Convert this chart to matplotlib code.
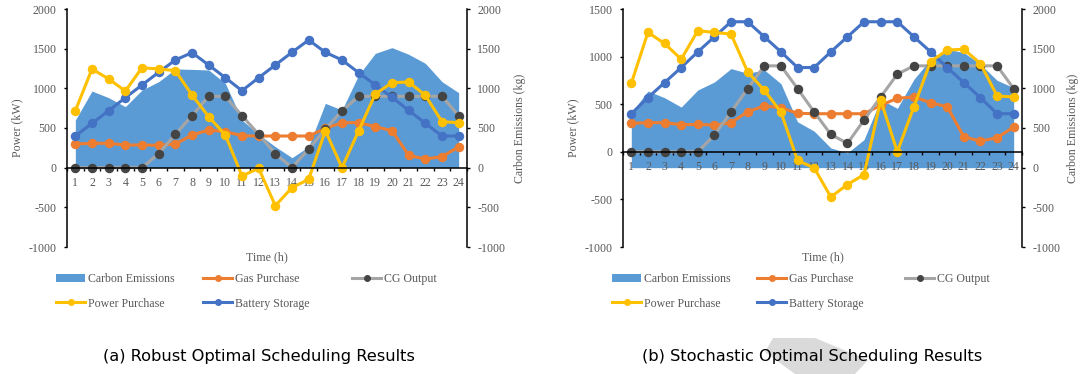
import matplotlib
matplotlib.use('Agg')
import matplotlib.pyplot as plt
from matplotlib.patches import Patch, Polygon
from matplotlib.lines import Line2D

plt.rcParams['axes.unicode_minus'] = False

W, H = 1083, 374

hours = list(range(1, 25))

# ---- (a) Robust optimal scheduling ----
a_carbon = [600, 966, 882, 769, 979, 1084, 1244, 1239, 1231, 1063, 600, 420,
            265, 126, 265, 811, 727, 1168, 1441, 1513, 1429, 1315, 1084, 945]
a_gas = [298, 307, 307, 286, 286, 282, 298, 412, 475, 454, 403, 399,
         399, 399, 399, 496, 567, 567, 517, 466, 155, 109, 139, 261]
a_cg = [0, 0, 0, 0, 0, 176, 420, 655, 899, 899, 655, 420,
        176, 0, 235, 483, 718, 899, 899, 899, 899, 899, 899, 655]
a_power = [718, 1244, 1118, 966, 1260, 1244, 1223, 916, 643, 412, -105, -8,
           -479, -252, -147, 466, 0, 466, 929, 1071, 1080, 912, 580, 567]
a_battery = [399, 559, 718, 882, 1042, 1202, 1357, 1450, 1294, 1134, 970, 1134,
             1294, 1454, 1609, 1454, 1357, 1197, 1042, 887, 723, 559, 399, 399]

# ---- (b) Stochastic optimal scheduling ----
b_carbon = [692, 966, 882, 764, 979, 1080, 1249, 1190, 1232, 1059, 578, 460,
            249, 186, 354, 861, 747, 1114, 1367, 1494, 1451, 1304, 1101, 1008]
b_gas = [299, 306, 306, 285, 288, 281, 306, 421, 481, 464, 404, 400,
         400, 400, 400, 488, 562, 576, 516, 474, 158, 112, 148, 260]
b_cg = [0, 0, 0, 0, 0, 176, 418, 664, 903, 903, 664, 418,
        183, 88, 334, 576, 815, 903, 903, 903, 903, 903, 903, 664]
b_power = [720, 1254, 1138, 973, 1272, 1254, 1236, 839, 646, 418, -91, -169,
           -474, -344, -239, 544, 0, 474, 948, 1068, 1078, 927, 587, 576]
b_battery = [400, 569, 727, 885, 1050, 1208, 1366, 1366, 1208, 1050, 885, 885,
             1050, 1208, 1366, 1366, 1366, 1208, 1050, 885, 727, 569, 400, 400]

left_ticks_a = [-1000, -500, 0, 500, 1000, 1500, 2000]
left_ticks_b = [-1000, -500, 0, 500, 1000, 1500]
right_ticks = [-1000, -500, 0, 500, 1000, 1500, 2000]

series_names = ['Carbon Emissions', 'Gas Purchase', 'CG Output',
                'Power Purchase', 'Battery Storage']
caption_a = '(a) Robust Optimal Scheduling Results'
caption_b = '(b) Stochastic Optimal Scheduling Results'

C_AREA = '#5B9BD5'
C_GAS = '#ED7D31'
C_CG = '#A5A5A5'
C_CGM = '#444444'
C_POW = '#FFC000'
C_BAT = '#4472C4'
TXT = '#595959'
SERIF = 'Liberation Serif'
FS = 8.6

fig = plt.figure(figsize=(W / 100, H / 100), dpi=100)


def px(x, y):
    return x / W, 1 - y / H


def panel(x0, x1, ylim, yticks, carbon, gas, cg, power, battery,
          ylab_x, rlab_x, cap, cap_x, leg_x):
    y_top, y_bot = 9, 247
    l, b = x0 / W, 1 - y_bot / H
    w, h = (x1 - x0) / W, (y_bot - y_top) / H
    ax = fig.add_axes([l, b, w, h])
    ax2 = ax.twinx()
    ax.set_zorder(ax2.get_zorder() + 1)
    ax.patch.set_visible(False)

    ax2.fill_between(hours, 0, carbon, color=C_AREA, lw=0)
    ax2.set_ylim(-1000, 2000)
    ax2.set_yticks(right_ticks)

    lw, ms = 2.2, 5.8
    ax.plot(hours, gas, color=C_GAS, lw=lw, marker='o', ms=ms, zorder=3)
    ax.plot(hours, cg, color=C_CG, lw=lw, marker='o', ms=ms,
            mfc=C_CGM, mec=C_CGM, zorder=3)
    ax.plot(hours, battery, color=C_BAT, lw=lw, marker='o', ms=ms, zorder=3)
    ax.plot(hours, power, color=C_POW, lw=lw, marker='o', ms=ms, zorder=3)

    ax.set_xlim(0.5, 24.5)
    ax.set_ylim(*ylim)
    ax.set_yticks(yticks)
    ax.set_xticks(hours)
    ax.set_xticks([i + 0.5 for i in range(0, 25)], minor=True)

    for s in ['top', 'right']:
        ax.spines[s].set_visible(False)
    ax.spines['bottom'].set_position(('data', 0))
    for s in ['top', 'left', 'bottom']:
        ax2.spines[s].set_visible(False)
    for sp in [ax.spines['left'], ax.spines['bottom'], ax2.spines['right']]:
        sp.set_color('black')
        sp.set_linewidth(1.1)
        sp.set_zorder(4)

    ax.tick_params(axis='y', direction='out', length=2.5, width=1, pad=5,
                   labelsize=FS, labelcolor=TXT)
    ax2.tick_params(axis='y', direction='out', length=2.5, width=1, pad=5,
                    labelsize=FS, labelcolor=TXT)
    ax.tick_params(axis='x', which='major', length=0, pad=6.5,
                   labelsize=FS, labelcolor=TXT)
    ax.tick_params(axis='x', which='minor', direction='out', length=2.5, width=1)
    for t in ax.get_xticklabels() + ax.get_yticklabels() + ax2.get_yticklabels():
        t.set_family(SERIF)

    cy = (y_top + y_bot) / 2
    fig.text(*px(ylab_x, cy), 'Power (kW)', rotation=90, ha='center', va='center',
             fontsize=FS, color=TXT, family=SERIF)
    fig.text(*px(rlab_x, cy), 'Carbon Emissions (kg)', rotation=90, ha='center',
             va='center', fontsize=FS, color=TXT, family=SERIF)
    fig.text(*px((x0 + x1) / 2, 257), 'Time (h)', ha='center', va='center',
             fontsize=FS, color=TXT, family=SERIF)
    fig.text(*px(cap_x, 357), cap, ha='center', va='center', fontsize=11.7,
             color='black', family='DejaVu Sans', zorder=5)

    h_area = Patch(facecolor=C_AREA, edgecolor='none')
    h_gas = Line2D([], [], color=C_GAS, lw=lw, marker='o', ms=4)
    h_cg = Line2D([], [], color=C_CG, lw=lw, marker='o', ms=4, mfc=C_CGM, mec=C_CGM)
    h_pow = Line2D([], [], color=C_POW, lw=lw, marker='o', ms=4)
    h_bat = Line2D([], [], color=C_BAT, lw=lw, marker='o', ms=4)
    cols = [([h_area, h_pow], [series_names[0], series_names[3]]),
            ([h_gas, h_bat], [series_names[1], series_names[4]]),
            ([h_cg], [series_names[2]])]
    for (hs, ls), lx in zip(cols, leg_x):
        leg = fig.legend(hs, ls, loc='upper left', bbox_to_anchor=px(lx, 273),
                         frameon=False, borderpad=0, borderaxespad=0,
                         handlelength=2.45, handletextpad=0.2, labelspacing=1.05,
                         prop={'family': SERIF, 'size': FS})
        for t in leg.get_texts():
            t.set_color(TXT)
    return ax, ax2


panel(67, 467, (-1000, 2000), left_ticks_a, a_carbon, a_gas, a_cg, a_power,
      a_battery, 17, 520, caption_a, 259, [56, 203, 352])
panel(623, 1022, (-1000, 1500), left_ticks_b, b_carbon, b_gas, b_cg, b_power,
      b_battery, 573, 1073, caption_b, 812, [612, 757, 905])

# light grey watermark shape behind the second caption
verts = [px(773, 338), px(815, 338), px(868, 360), px(855, 374),
         px(795, 374), px(765, 352)]
fig.patches.append(Polygon(verts, closed=True, transform=fig.transFigure,
                           facecolor='#DADADA', edgecolor='none', zorder=0))

fig.savefig('out.png', dpi=100)
